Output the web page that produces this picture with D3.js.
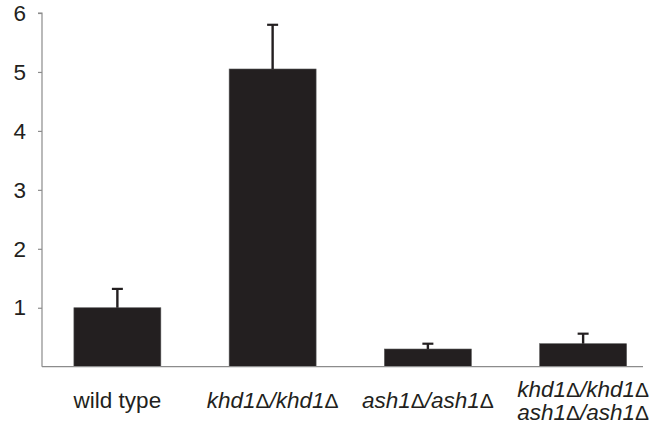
<!DOCTYPE html>
<html>
<head>
<meta charset="utf-8">
<script src="https://cdn.jsdelivr.net/npm/d3@7"></script>
<style>
  body { margin: 0; background: #fff; }
  svg { display: block; font-family: "Liberation Sans", Arial, sans-serif; }
</style>
</head>
<body>
<svg id="chart" width="664" height="427"></svg>
<script>
const categories = [
  ["wild type"],
  ["khd1\u0394/khd1\u0394"],
  ["ash1\u0394/ash1\u0394"],
  ["khd1\u0394/khd1\u0394", "ash1\u0394/ash1\u0394"]
];
const italic = [false, true, true, true];
const means = [1.0, 5.05, 0.30, 0.39];
const errors = [0.32, 0.75, 0.09, 0.17];
const yTicks = [1, 2, 3, 4, 5, 6];

const svg = d3.select("#chart");

const y = d3.scaleLinear().domain([0, 6]).range([366.7, 13]);
const x = d3.scaleBand()
  .domain(d3.range(categories.length))
  .range([39.75, 660.75])
  .paddingInner(0.44)
  .paddingOuter(0.22);

const axisColor = "#8c8c8c";
const barColor = "#231f20";

// bars
svg.append("g")
  .selectAll("rect")
  .data(means)
  .enter()
  .append("rect")
  .attr("x", (d, i) => x(i))
  .attr("width", x.bandwidth())
  .attr("y", d => y(d))
  .attr("height", d => y(0) - y(d))
  .attr("fill", barColor)
  .attr("stroke", "#555")
  .attr("stroke-width", 0.6);

// upper error bars
const err = svg.append("g")
  .attr("stroke", barColor)
  .attr("fill", "none");

err.selectAll("line.stem")
  .data(means)
  .enter()
  .append("line")
  .attr("class", "stem")
  .attr("x1", (d, i) => x(i) + x.bandwidth() / 2)
  .attr("x2", (d, i) => x(i) + x.bandwidth() / 2)
  .attr("y1", d => y(d))
  .attr("y2", (d, i) => y(d + errors[i]))
  .attr("stroke-width", 2.4);

err.selectAll("line.cap")
  .data(means)
  .enter()
  .append("line")
  .attr("class", "cap")
  .attr("x1", (d, i) => x(i) + x.bandwidth() / 2 - 5.5)
  .attr("x2", (d, i) => x(i) + x.bandwidth() / 2 + 5.5)
  .attr("y1", (d, i) => y(d + errors[i]))
  .attr("y2", (d, i) => y(d + errors[i]))
  .attr("stroke-width", 2.2);

// y axis
const yAxis = svg.append("g")
  .attr("transform", "translate(42,0)")
  .call(d3.axisLeft(y).tickValues(yTicks).tickSize(4).tickPadding(12).tickFormat(d3.format("d")));

yAxis.select(".domain")
  .attr("stroke", axisColor)
  .attr("stroke-width", 1.2)
  .attr("d", `M-4,${y(6)}H0V${y(0)}`);
yAxis.selectAll(".tick line").attr("stroke", axisColor).attr("stroke-width", 1.2);
yAxis.attr("font-size", 22.5).attr("font-family", "Liberation Sans, Arial, sans-serif");
yAxis.selectAll(".tick text").attr("fill", "#231f20");

// x axis line
svg.append("line")
  .attr("x1", 42)
  .attr("x2", 643)
  .attr("y1", y(0))
  .attr("y2", y(0))
  .attr("stroke", axisColor)
  .attr("stroke-width", 1.2);

// category labels (delta kept upright, like the symbol font in the original)
const labels = svg.append("g")
  .attr("font-size", 22.5)
  .attr("fill", "#231f20")
  .attr("text-anchor", "middle");

labels.selectAll("text")
  .data(categories)
  .enter()
  .append("text")
  .attr("transform", (d, i) => `translate(${x(i) + x.bandwidth() / 2},${d.length > 1 ? 397 : 408})`)
  .each(function (d, i) {
    const t = d3.select(this);
    d.forEach((line, j) => {
      const parts = line.split(/(\u0394)/).filter(s => s.length);
      parts.forEach((p, k) => {
        const ts = t.append("tspan")
          .attr("font-style", p === "\u0394" || !italic[i] ? "normal" : "italic")
          .attr("font-size", p === "\u0394" ? 21 : null)
          .text(p);
        if (k === 0) ts.attr("x", 0).attr("y", j * 23);
      });
    });
  });
</script>
</body>
</html>
